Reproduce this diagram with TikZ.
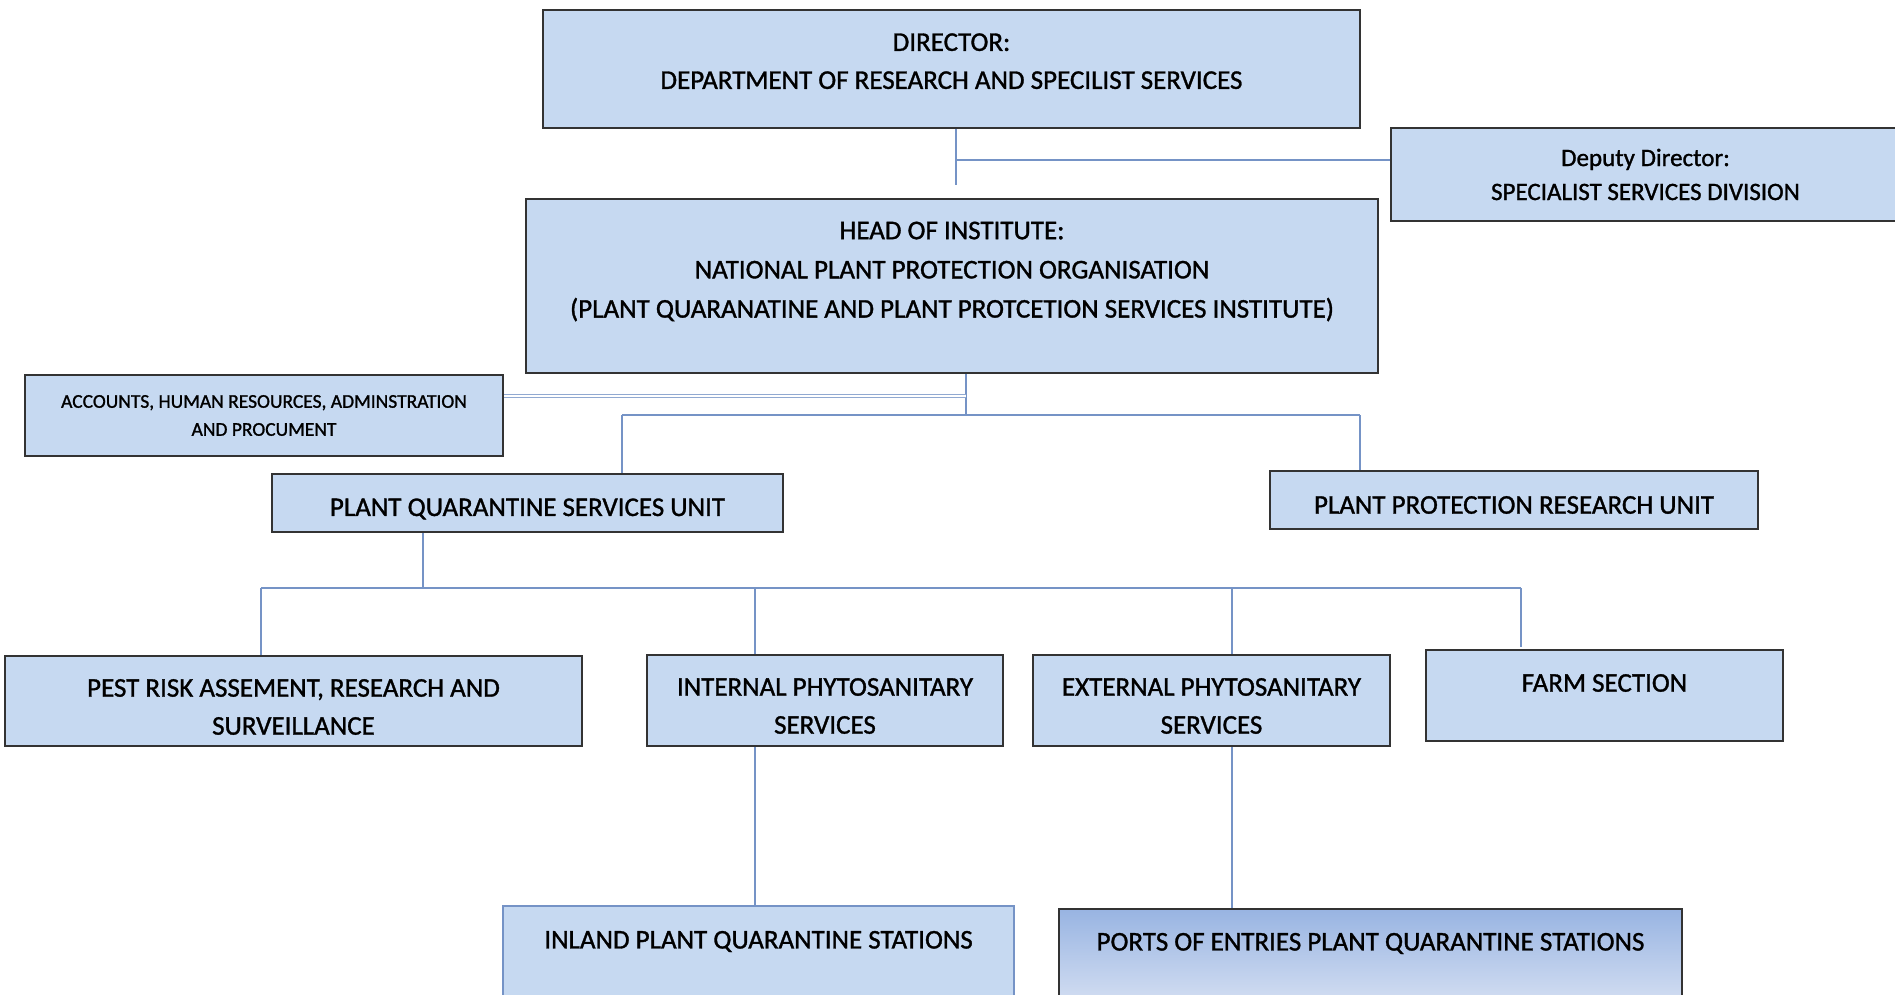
\documentclass[tikz,border=0pt]{standalone}
\usepackage{fontspec}
\setmainfont{Carlito}[UprightFeatures={FakeBold=1.2}]
\usepackage{xcolor}
\usetikzlibrary{positioning}
\pgfdeclarelayer{bg}
\pgfsetlayers{bg,main}
\definecolor{boxblue}{HTML}{C6D9F1}
\definecolor{linkblue}{HTML}{7593C6}
\definecolor{portstop}{HTML}{98B4E2}
\definecolor{portsbot}{HTML}{E4EAF6}

\begin{document}
\begin{tikzpicture}[x=1pt, y=-1pt,
unit/.style={rectangle, draw=black!80, fill=boxblue, line width=1.1pt, inner sep=0pt, align=center, font=\fontsize{27}{38}\selectfont},
capt/.style={align=center, font=\fontsize{27}{38}\selectfont},
link/.style={draw=linkblue, line width=1.2pt},
twin/.style={draw=linkblue!80, line width=0.9pt, double=white, double distance=2.4pt},
]
\clip (0,0) rectangle (1895,995);

% top
\node[unit, minimum width=817, minimum height=118, label={[capt, yshift=7.8]center:{DIRECTOR:\\DEPARTMENT OF RESEARCH AND SPECILIST SERVICES}}] (dir) at (951.5,69) {};
\node[unit, minimum width=509, minimum height=93, font=\fontsize{25}{34}\selectfont] (dep) at (1645.5,174.5) {Deputy Director:\\SPECIALIST SERVICES DIVISION};
\node[unit, minimum width=852, minimum height=174, label={[capt, font=\fontsize{27}{39.2}\selectfont, yshift=14.5]center:{HEAD OF INSTITUTE:\\NATIONAL PLANT PROTECTION ORGANISATION\\(PLANT QUARANATINE AND PLANT PROTCETION SERVICES INSTITUTE)}}] (head) at (952,286) {};

% units
\node[unit, minimum width=478, minimum height=81, font=\fontsize{19.5}{28}\selectfont] (acc) at (264,415.5) {ACCOUNTS, HUMAN RESOURCES, ADMINSTRATION\\AND PROCUMENT};
\node[unit, minimum width=511, minimum height=58, label={[capt, yshift=-6]center:PLANT QUARANTINE SERVICES UNIT}] (pqsu) at (527.5,503) {};
\node[unit, minimum width=488, minimum height=58, label={[capt, yshift=-5]center:PLANT PROTECTION RESEARCH UNIT}] (ppru) at (1514,500) {};

% sections
\node[unit, minimum width=577, minimum height=90, label={[capt, yshift=-6]center:{PEST RISK ASSEMENT, RESEARCH AND\\SURVEILLANCE}}] (pest) at (293.5,701) {};
\node[unit, minimum width=356, minimum height=91, label={[capt, yshift=-5.5]center:{INTERNAL PHYTOSANITARY\\SERVICES}}] (ips) at (825,700.5) {};
\node[unit, minimum width=357, minimum height=91, label={[capt, yshift=-5.5]center:{EXTERNAL PHYTOSANITARY\\SERVICES}}] (eps) at (1211.5,700.5) {};
\node[unit, minimum width=357, minimum height=91, label={[capt, yshift=12.5]center:FARM SECTION}] (farm) at (1604.5,695.5) {};

% stations
\node[unit, draw=linkblue, minimum width=511, minimum height=124, label={[capt, yshift=26.5]center:INLAND PLANT QUARANTINE STATIONS}] (inland) at (758.5,968) {};
\node[unit, top color=portstop, bottom color=portsbot, minimum width=623, minimum height=121, label={[capt, yshift=26]center:PORTS OF ENTRIES PLANT QUARANTINE STATIONS}] (ports) at (1370.5,969.5) {};

\coordinate (d1) at (956,185);
\coordinate (j1) at (956,160);
\coordinate (j2) at (966,396);
\coordinate (j3) at (966,415);
\coordinate (j4) at (622,415);
\coordinate (j5) at (1360,415);
\coordinate (b0) at (261,588);
\coordinate (b1) at (423,588);
\coordinate (b2) at (755,588);
\coordinate (b3) at (1232,588);
\coordinate (b4) at (1521,588);
\coordinate (f1) at (1521,647);

\begin{pgfonlayer}{bg}
	\draw[link] (dir.south -| d1) -- (d1);
	\draw[link] (j1) -- (j1 -| dep.west);
	
	\draw[link] (head.south -| j3) -- (j3);
	\draw[twin] (acc.east |- j2) -- (j2);
	\draw[link] (j4) -- (j5);
	\draw[link] (j4) -- (j4 |- pqsu.north);
	\draw[link] (j5) -- (j5 |- ppru.north);
	
	\draw[link] (pqsu.south -| b1) -- (b1);
	\draw[link] (b0) -- (b4);
	\draw[link] (b0) -- (b0 |- pest.north);
	\draw[link] (b2) -- (b2 |- ips.north);
	\draw[link] (b3) -- (b3 |- eps.north);
	\draw[link] (b4) -- (f1);
	
	\draw[link] (ips.south -| b2) -- (b2 |- inland.north);
	\draw[link] (eps.south -| b3) -- (b3 |- ports.north);
\end{pgfonlayer}
\end{tikzpicture}
\end{document}
